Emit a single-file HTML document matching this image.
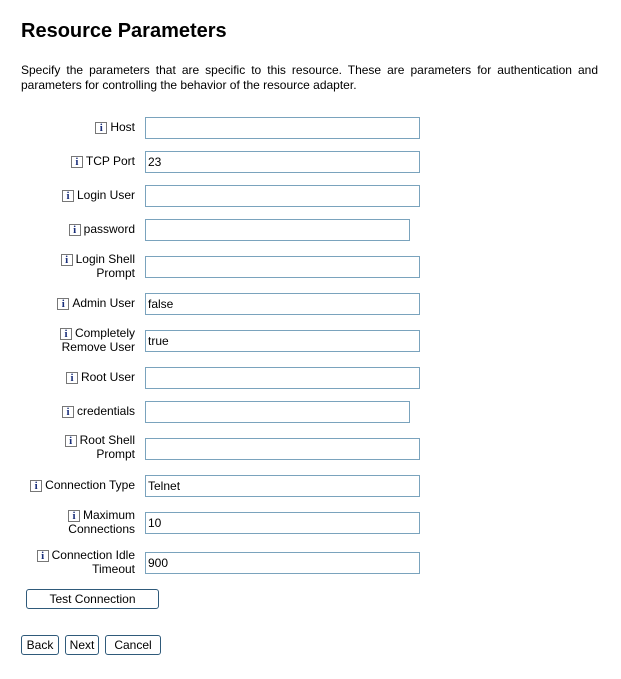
<!DOCTYPE html>
<html><head><meta charset="utf-8"><style>
body{margin:0;width:621px;height:679px;background:#fff;font-family:"Liberation Sans",Arial,sans-serif;color:#000;position:relative;overflow:hidden}
h1{position:absolute;left:21px;top:19px;margin:0;font-size:20px;font-weight:bold;line-height:24px}
p{position:absolute;left:21px;top:63px;width:577px;margin:0;font-size:12px;line-height:15px;text-align:justify}
.l{position:absolute;right:486px;font-size:12px;line-height:14px;text-align:right;white-space:nowrap}
.i{display:inline-block;width:10px;height:10px;border:1px solid #777;font:bold 11px "Liberation Serif",serif;color:#1a2f7a;text-align:center;line-height:10px;vertical-align:0px;margin-right:3px;background:#fff}
.b{position:absolute;left:145px;border:1px solid #7aa3bd;font-size:12px;line-height:20px;padding-left:2px;box-sizing:border-box;width:275px;height:22px}
.btn{position:absolute;height:20px;border:1px solid #2f5a7a;border-radius:3px;font-size:12px;line-height:18px;text-align:center;box-sizing:border-box;background:#fff}
</style></head><body>
<h1>Resource Parameters</h1>
<p>Specify the parameters that are specific to this resource. These are parameters for authentication and parameters for controlling the behavior of the resource adapter.</p>

<div class="l" style="top:120px"><span class="i">i</span>Host</div><div class="b" style="top:117px"></div>
<div class="l" style="top:154px"><span class="i">i</span>TCP Port</div><div class="b" style="top:151px">23</div>
<div class="l" style="top:188px"><span class="i">i</span>Login User</div><div class="b" style="top:185px"></div>
<div class="l" style="top:222px"><span class="i">i</span>password</div><div class="b" style="top:219px;width:265px"></div>
<div class="l" style="top:252px"><span class="i">i</span>Login Shell<br>Prompt</div><div class="b" style="top:256px"></div>
<div class="l" style="top:296px"><span class="i">i</span>Admin User</div><div class="b" style="top:293px">false</div>
<div class="l" style="top:326px"><span class="i">i</span>Completely<br>Remove User</div><div class="b" style="top:330px">true</div>
<div class="l" style="top:370px"><span class="i">i</span>Root User</div><div class="b" style="top:367px"></div>
<div class="l" style="top:404px"><span class="i">i</span>credentials</div><div class="b" style="top:401px;width:265px"></div>
<div class="l" style="top:433px"><span class="i">i</span>Root Shell<br>Prompt</div><div class="b" style="top:438px"></div>
<div class="l" style="top:478px"><span class="i">i</span>Connection Type</div><div class="b" style="top:475px">Telnet</div>
<div class="l" style="top:508px"><span class="i">i</span>Maximum<br>Connections</div><div class="b" style="top:512px">10</div>
<div class="l" style="top:548px"><span class="i">i</span>Connection Idle<br>Timeout</div><div class="b" style="top:552px">900</div>

<div class="btn" style="left:26px;top:589px;width:133px">Test Connection</div>
<div class="btn" style="left:21px;top:635px;width:38px">Back</div>
<div class="btn" style="left:65px;top:635px;width:34px">Next</div>
<div class="btn" style="left:105px;top:635px;width:56px">Cancel</div>
</body></html>
